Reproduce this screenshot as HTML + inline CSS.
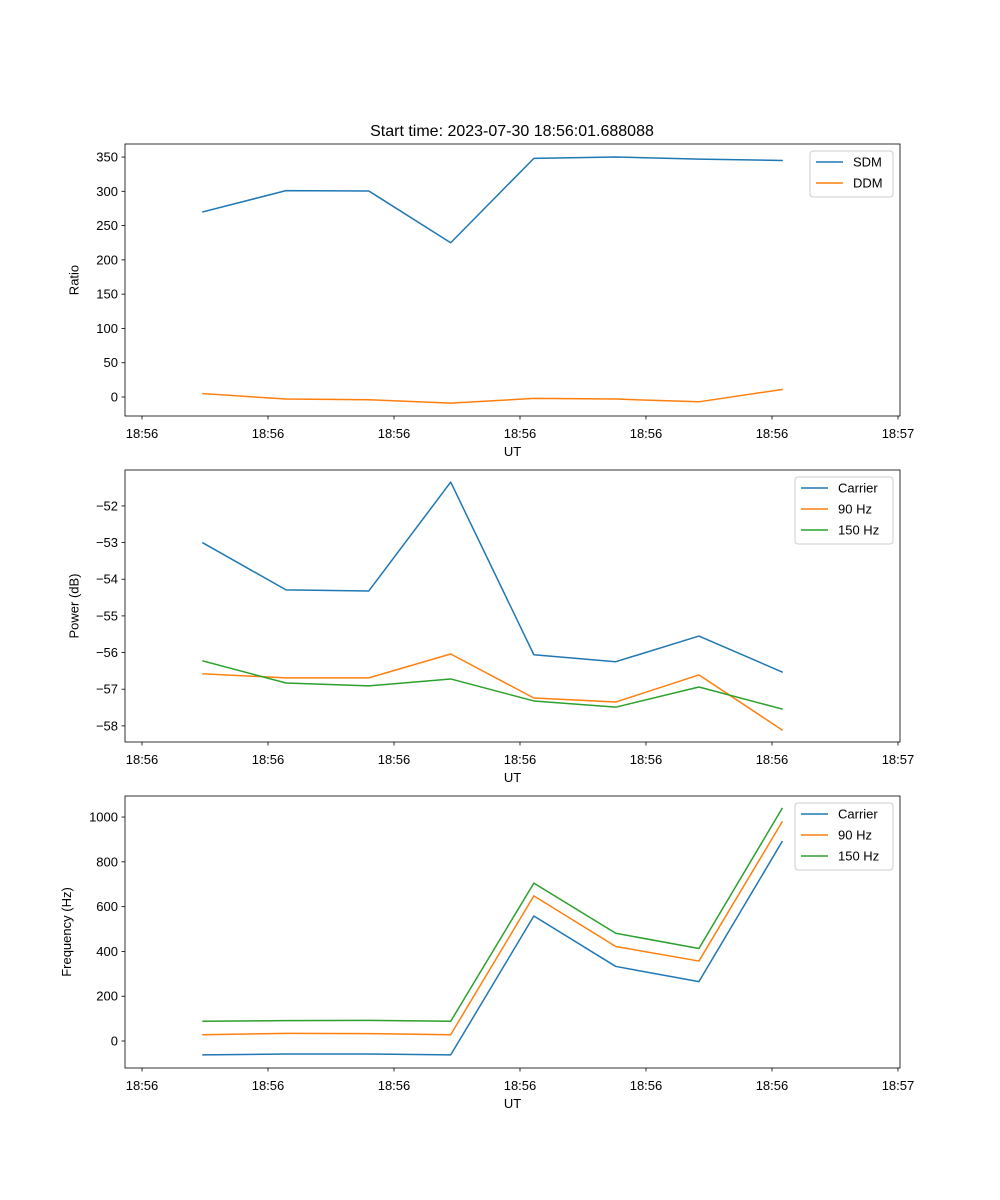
<!DOCTYPE html>
<html><head><meta charset="utf-8">
<style>
html,body{margin:0;padding:0;background:#fff;}
svg{display:block;font-family:"Liberation Sans","DejaVu Sans",sans-serif;}
</style></head>
<body>
<svg id="chart" width="1000" height="1200" viewBox="0 0 1000 1200" xmlns="http://www.w3.org/2000/svg">
<rect width="1000" height="1200" fill="#fff"/>
<text x="512" y="136" font-size="16" text-anchor="middle" fill="#000">Start time: 2023-07-30 18:56:01.688088</text>
</svg>
<script>
// x values, seconds since 18:56:00
const times = [4.84, 11.43, 18.0, 24.5, 31.1, 37.6, 44.2, 50.8];
const xTickValues = [0, 10, 20, 30, 40, 50, 60];
const xTickLabels = ["18:56","18:56","18:56","18:56","18:56","18:56","18:57"];

const sdm = [270, 301, 300.5, 225, 348, 350, 347, 345];
const ddm = [5, -3, -4, -9, -2, -3, -7, 11];
const ratioTicks = [0, 50, 100, 150, 200, 250, 300, 350];

const powerCarrier = [-53.01, -54.29, -54.32, -51.35, -56.06, -56.25, -55.55, -56.53];
const power90 = [-56.58, -56.69, -56.69, -56.04, -57.24, -57.35, -56.61, -58.11];
const power150 = [-56.23, -56.83, -56.91, -56.72, -57.32, -57.49, -56.94, -57.54];
const powerTicks = [-58, -57, -56, -55, -54, -53, -52];

const freqCarrier = [-62, -58, -58, -62, 558, 333, 265, 890];
const freq90 = [28, 34, 33, 28, 648, 422, 357, 978];
const freq150 = [88, 91, 92, 88, 705, 481, 413, 1038];
const freqTicks = [0, 200, 400, 600, 800, 1000];

const NS = "http://www.w3.org/2000/svg";
const svg = document.getElementById("chart");
const C = {blue:"#1f77b4", orange:"#ff7f0e", green:"#2ca02c"};
const L = 125, R = 900;
const xMin = -1.35, xMax = 60.16;
const xs = v => L + (v - xMin) / (xMax - xMin) * (R - L);

function mk(tag, attrs, parent) {
  const e = document.createElementNS(NS, tag);
  for (const k in attrs) e.setAttribute(k, attrs[k]);
  (parent || svg).appendChild(e);
  return e;
}

function panel(name, top, bottom, yMin, yMax, yTicks, yTitle, series, legend) {
  const g = mk("g", {});
  
  
  const ys = v => bottom - (v - yMin) / (yMax - yMin) * (bottom - top);
  series.forEach(s => {
    const d = s.vals.map((v, i) => (i ? "L" : "M") + xs(times[i]).toFixed(2) + "," + ys(v).toFixed(2)).join(" ");
    const p = mk("path", {d: d, fill: "none", stroke: s.color, "stroke-width": 1.5, "stroke-linejoin": "round", "stroke-linecap": "square"}, g);
    
    
  });
  const fr = mk("rect", {x: L, y: top, width: R - L, height: bottom - top, fill: "none", stroke: "#000", "stroke-width": 0.8}, g);
  
  
  xTickValues.forEach((t, i) => {
    const x = xs(t);
    mk("line", {x1: x, x2: x, y1: bottom, y2: bottom + 3.5, stroke: "#000", "stroke-width": 0.8}, g);
    const tx = mk("text", {x: x, y: bottom + 22, "font-size": 13, "text-anchor": "middle", fill: "#000"}, g);
    tx.textContent = xTickLabels[i];
    
    
  });
  const xt = mk("text", {x: (L + R) / 2, y: bottom + 40, "font-size": 13, "text-anchor": "middle", fill: "#000"}, g);
  xt.textContent = "UT";
  
  
  let maxW = 0;
  yTicks.forEach(t => {
    const y = ys(t);
    mk("line", {x1: L - 3.5, x2: L, y1: y, y2: y, stroke: "#000", "stroke-width": 0.8}, g);
    const lab = (t < 0 ? "\u2212" + Math.abs(t) : String(t));
    maxW = Math.max(maxW, lab.length);
    const tx = mk("text", {x: L - 7, y: y + 4.5, "font-size": 13, "text-anchor": "end", fill: "#000"}, g);
    tx.textContent = lab;
    
    
  });
  const yc = (top + bottom) / 2;
  const yx = L - 18 - maxW * 7.5 - 6;
  const yt = mk("text", {x: yx, y: yc, "font-size": 13, "text-anchor": "middle", fill: "#000", transform: "rotate(-90 " + yx + " " + yc + ")"}, g);
  yt.textContent = yTitle;
  
  
  const lg = mk("g", {}, g);
  
  
  mk("rect", {x: legend.x, y: top + 7, width: R - 7 - legend.x, height: series.length * 21 + 4, rx: 3, fill: "#fff", "fill-opacity": 0.8, stroke: "#ccc", "stroke-width": 1}, lg);
  series.forEach((s, i) => {
    const y = top + 18 + i * 21;
    mk("line", {x1: legend.x + 6, x2: legend.x + 33, y1: y, y2: y, stroke: s.color, "stroke-width": 1.5}, lg);
    const tx = mk("text", {x: legend.x + 43, y: y + 4.5, "font-size": 13, fill: "#000"}, lg);
    tx.textContent = s.label;
    
    
  });
}

panel("ratio", 144, 416, -27.7, 369, ratioTicks, "Ratio",
  [{key:"sdm", label:"SDM", vals:sdm, color:C.blue},
   {key:"ddm", label:"DDM", vals:ddm, color:C.orange}], {x:810});
panel("power", 470, 742, -58.44, -51.02, powerTicks, "Power (dB)",
  [{key:"carrier", label:"Carrier", vals:powerCarrier, color:C.blue},
   {key:"90hz", label:"90 Hz", vals:power90, color:C.orange},
   {key:"150hz", label:"150 Hz", vals:power150, color:C.green}], {x:795});
panel("frequency", 796, 1068, -120.5, 1094, freqTicks, "Frequency (Hz)",
  [{key:"carrier", label:"Carrier", vals:freqCarrier, color:C.blue},
   {key:"90hz", label:"90 Hz", vals:freq90, color:C.orange},
   {key:"150hz", label:"150 Hz", vals:freq150, color:C.green}], {x:795});
</script>
</body></html>
